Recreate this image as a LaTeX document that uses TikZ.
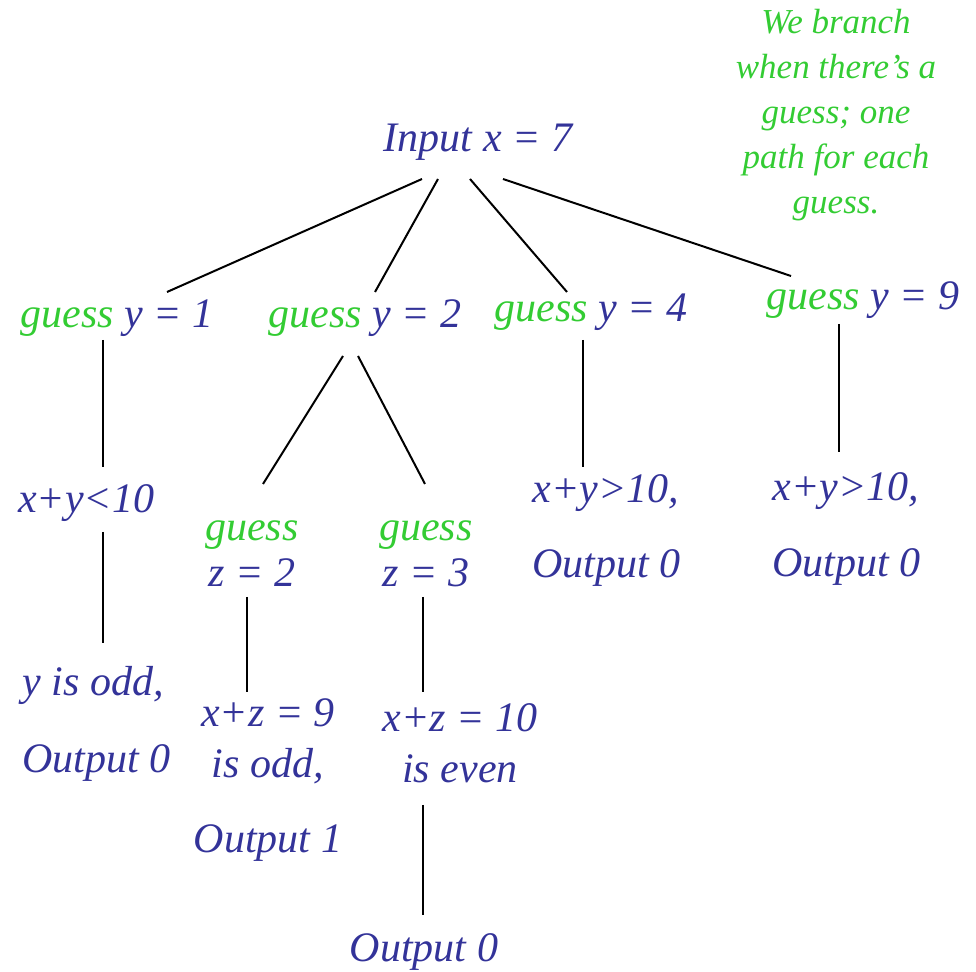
\documentclass[tikz,border=0pt]{standalone}
\usepackage{fontspec}
\setmainfont{Liberation Serif}
\usetikzlibrary{calc}
\definecolor{blu}{HTML}{333399}
\definecolor{grn}{HTML}{33CC33}

\begin{document}
\begin{tikzpicture}[x=0.5pt, y=-0.5pt,
    txt/.style={text=blu, inner sep=0pt, anchor=base, font=\fontsize{21}{25.5}\selectfont\itshape},
    note/.style={text=grn, inner sep=0pt, anchor=base, align=center, font=\fontsize{17.5}{22.5}\selectfont\itshape},
    edge/.style={black, line width=1pt}]
    \useasboundingbox (0,0) rectangle (976,972);
    % tree of guesses (multi-line nodes sit on their last baseline)
    \node[txt] (in) at (478,152) {Input x = 7};
    \node[txt] (g1) at (117,328) {{\color{grn}guess} y = 1};
    \node[txt] (g2) at (365,328) {{\color{grn}guess} y = 2};
    \node[txt] (g4) at (591,322) {{\color{grn}guess} y = 4};
    \node[txt] (g9) at (863,310) {{\color{grn}guess} y = 9};
    \node[txt] (c1) at (86,513) {x+y<10};
    \node[txt, align=center] (z2) at (252,587) {{\color{grn}guess}\\[-2.5pt]z = 2};
    \node[txt, align=center] (z3) at (426,587) {{\color{grn}guess}\\[-2.5pt]z = 3};
    \node[txt, align=left, anchor=base west] (o4) at (532,578) {x+y>10,\\[12pt]Output 0};
    \node[txt, align=left, anchor=base west] (o9) at (772,577) {x+y>10,\\[12.5pt]Output 0};
    \node[txt, align=left, anchor=base west] (c1o) at (22,773) {y is odd,\\[13pt]Output 0};
    \node[txt, align=center] (r2) at (268,853) {x+z = 9\\is odd,\\[12pt]Output 1};
    \node[txt, align=center] (r3) at (460,783) {x+z = 10\\is even};
    \node[txt] (out) at (424,962) {Output 0};
    \node[note] (cm) at (836,214) {We branch\\when there’s a\\guess; one\\path for each\\guess.};

    \draw[edge] ($(in.base)+(-56,27)$) -- ($(g1.base)+(50,-36)$);
    \draw[edge] ($(in.base)+(-40,27)$) -- ($(g2.base)+(10,-36)$);
    \draw[edge] ($(in.base)+(-8,27)$) -- ($(g4.base)+(-24,-30)$);
    \draw[edge] ($(in.base)+(25,27)$) -- ($(g9.base)+(-72,-34)$);
    \draw[edge] ($(g1.base)+(-14,12)$) -- ($(c1.base)+(17,-46)$);
    \draw[edge] ($(g2.base)+(-22,28)$) -- ($(z2.base)+(11,-103)$);
    \draw[edge] ($(g2.base)+(-7,28)$) -- ($(z3.base)+(-1,-103)$);
    \draw[edge] ($(g4.base)+(-8,18)$) -- ($(o4.base west)+(51,-111)$);
    \draw[edge] ($(g9.base)+(-24,14)$) -- ($(o9.base west)+(67,-125)$);
    \draw[edge] ($(c1.base)+(17,19)$) -- ($(c1o.base west)+(81,-130)$);
    \draw[edge] ($(z2.base)+(-5,10)$) -- ($(r2.base)+(-21,-161)$);
    \draw[edge] ($(z3.base)+(-3,10)$) -- ($(r3.base)+(-37,-91)$);
    \draw[edge] ($(r3.base)+(-37,22)$) -- ($(out.base)+(-1,-47)$);
\end{tikzpicture}
\end{document}
